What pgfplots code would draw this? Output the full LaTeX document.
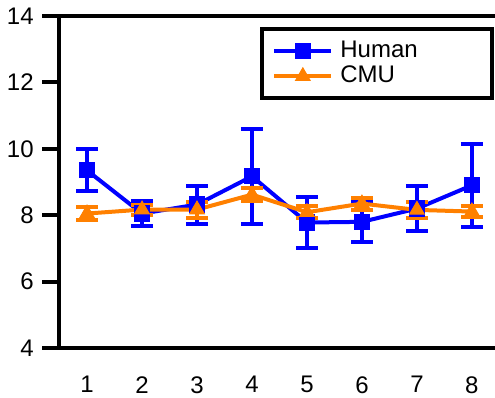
\documentclass[border=0pt]{standalone}
\usepackage{fontspec}
\setmainfont{Liberation Sans}
\usepackage{pgfplots}
\pgfplotsset{compat=1.18}
\definecolor{hblue}{RGB}{0,0,255}
\definecolor{corange}{RGB}{255,128,0}

\begin{document}
\fontsize{12}{14}\selectfont
\begin{tikzpicture}
\begin{axis}[
  scale only axis, width=218pt, height=166pt,
  xmin=0.49, xmax=8.42, ymin=4, ymax=14,
  axis x line*=bottom, axis y line*=left,
  axis line style={line width=2pt, -},
  xtick={1,...,8}, ytick={4,6,...,14},
  tick align=outside,
  major tick length=8.5pt,
  every tick/.style={line width=2pt, black},
  x tick style={draw=none},
  /pgf/number format/assume math mode=true,
  tick label style={font=\fontsize{12}{14}\selectfont},
  xticklabel style={yshift=-1.5pt},
  clip=false,
  legend style={at={(rel axis cs:0.9985,0.967)}, anchor=north east,
    draw=black, line width=2pt, font=\fontsize{12}{14}\selectfont,
    row sep=-1.5pt, inner xsep=5pt, inner ysep=4pt},
  legend cell align=left,
  legend image code/.code={
    \draw[mark repeat=2, mark phase=2, #1]
      plot coordinates {(0pt,0pt) (14.25pt,0pt) (28.5pt,0pt)};},
]
% frame line along the top of the plot area
\draw[line width=2pt] (rel axis cs:0,1) -- (rel axis cs:1,1);
% short ticks under the horizontal axis
\pgfplotsinvokeforeach{1,...,8}{
  \draw[line width=2pt] (axis cs:#1,4) ++(0,-1pt) -- ++(0,-6pt);
}

\addplot[hblue, line width=2pt, mark=square*, mark size=3.8pt,
  mark options={solid, line width=0.5pt},
  error bars/.cd, y dir=both, y explicit,
  error bar style={line width=2pt, hblue},
  error mark options={rotate=90, mark size=5.5pt, line width=2pt, hblue}]
  coordinates {
    (1,9.35) +- (0,0.63)
    (2,8.05) +- (0,0.37)
    (3,8.32) +- (0,0.57)
    (4,9.17) +- (0,1.42)
    (5,7.78) +- (0,0.76)
    (6,7.80) +- (0,0.60)
    (7,8.20) +- (0,0.69)
    (8,8.90) +- (0,1.24)
  };
\addlegendentry{\hspace{1.5pt}\makebox[69pt][l]{Human}}

\addplot[corange, line width=2pt, mark=triangle*, mark size=4.2pt,
  mark options={solid, line width=0.5pt},
  error bars/.cd, y dir=both, y explicit,
  error bar style={line width=2pt, corange},
  error mark options={rotate=90, mark size=5.5pt, line width=2pt, corange}]
  coordinates {
    (1,8.05) +- (0,0.19)
    (2,8.17) +- (0,0.15)
    (3,8.17) +- (0,0.24)
    (4,8.62) +- (0,0.19)
    (5,8.09) +- (0,0.18)
    (6,8.35) +- (0,0.18)
    (7,8.16) +- (0,0.25)
    (8,8.11) +- (0,0.17)
  };
\addlegendentry{\hspace{1.5pt}\makebox[69pt][l]{CMU}}
\end{axis}
\pgfresetboundingbox
\path[use as bounding box] ([shift={(-29.5pt,-24.5pt)}]current axis.south west)
  rectangle ([shift={(0pt,8pt)}]current axis.north east);
\end{tikzpicture}
\end{document}
